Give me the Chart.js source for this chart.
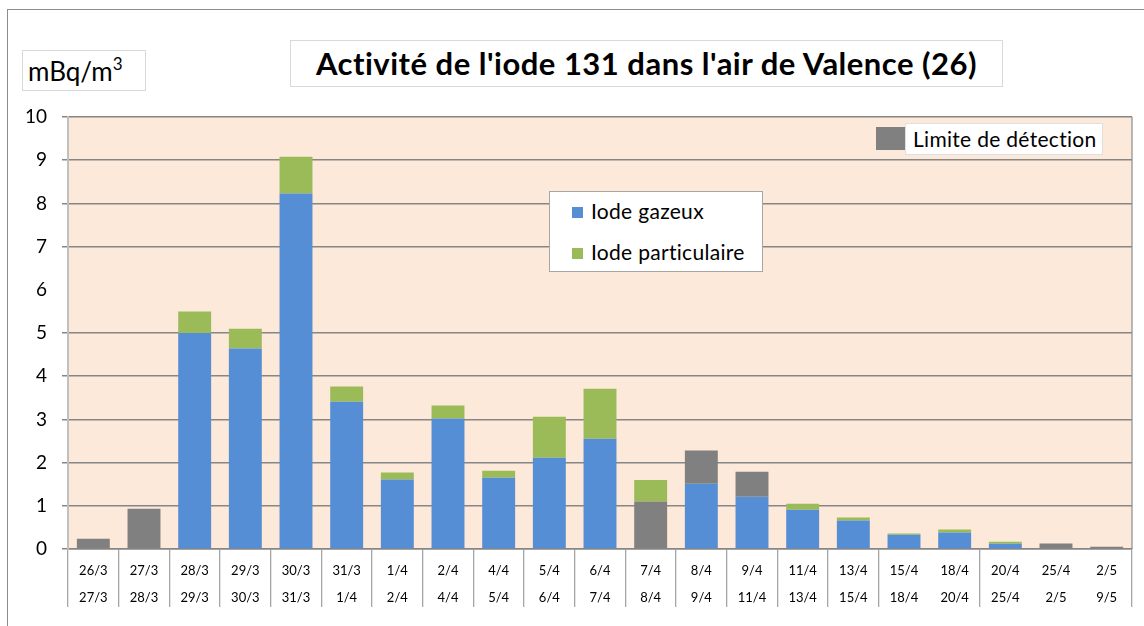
<!DOCTYPE html>
<html lang="fr">
<head>
<meta charset="utf-8">
<title>Activité de l'iode 131 dans l'air de Valence (26)</title>
<script src="https://cdn.jsdelivr.net/npm/chart.js@4.4.1/dist/chart.umd.min.js"></script>
<style>
  html, body { margin: 0; padding: 0; background: #fff; }
  #wrap { position: relative; width: 1144px; height: 626px; overflow: hidden; font-family: Lato, "Open Sans", sans-serif; color: #000; }
  #frame { position: absolute; left: 7px; top: 9px; width: 1140px; height: 700px; border: 1px solid #8c8c8c; box-sizing: border-box; }
  canvas { position: absolute; left: 0; top: 0; }
  .box { position: absolute; background: #fff; box-sizing: border-box; }
  #title { left: 290px; top: 40px; width: 713px; height: 47px; border: 1px solid #d9d9d9; font-weight: bold; font-size: 31px; letter-spacing: 0.5px; text-align: center; line-height: 45px; white-space: nowrap; }
  #unit { left: 22px; top: 50px; width: 124px; height: 41px; border: 1px solid #d9d9d9; font-size: 26px; line-height: 41px; padding-left: 5px; white-space: nowrap; }
  #unit sup { font-size: 17px; vertical-align: 11px; line-height: 0; }
  #leg1 { left: 549px; top: 191px; width: 214px; height: 81px; border: 1px solid #a6a6a6; font-size: 21px; letter-spacing: 0.3px; }
  .item { position: absolute; left: 22px; white-space: nowrap; }
  .sw { display: inline-block; width: 11px; height: 11px; margin-right: 8px; vertical-align: 1px; }
  #leg2sw { position: absolute; left: 876px; top: 127px; width: 29px; height: 23px; background: #808080; }
  #leg2 { left: 905px; top: 123px; width: 198px; height: 32px; border: 1px solid #e0e0e0; font-size: 21px; letter-spacing: 0.3px; line-height: 30px; padding-left: 7px; white-space: nowrap; }
</style>
</head>
<body>
<div id="wrap">
  <div id="frame"></div>
  <canvas id="chart" width="1144" height="626"></canvas>
  <div class="box" id="title">Activité de l'iode 131 dans l'air de Valence (26)</div>
  <div class="box" id="unit">mBq/m<sup>3</sup></div>
  <div class="box" id="leg1">
    <div class="item" style="top:6px"><span class="sw" style="background:#558ed5"></span>Iode gazeux</div>
    <div class="item" style="top:47px"><span class="sw" style="background:#9bbb59"></span>Iode particulaire</div>
  </div>
  <div id="leg2sw"></div>
  <div class="box" id="leg2">Limite de détection</div>
</div>
<script>
// periode de prelevement : debut / fin
const dateDebut = ["26/3","27/3","28/3","29/3","30/3","31/3","1/4","2/4","4/4","5/4","6/4","7/4","8/4","9/4","11/4","13/4","15/4","18/4","20/4","25/4","2/5"];
const dateFin   = ["27/3","28/3","29/3","30/3","31/3","1/4","2/4","4/4","5/4","6/4","7/4","8/4","9/4","11/4","13/4","15/4","18/4","20/4","25/4","2/5","9/5"];

// mBq/m3, valeurs empilees
const limiteBas    = [0.24,0.93,0,0,0,0,0,0,0,0,0,1.10,0,0,0,0,0,0,0,0.13,0.05];
const iodeGazeux   = [0,0,5.00,4.64,8.23,3.41,1.61,3.02,1.65,2.11,2.55,0,1.51,1.21,0.91,0.66,0.33,0.38,0.12,0,0];
const iodePartic   = [0,0,0.50,0.46,0.85,0.35,0.16,0.30,0.16,0.95,1.16,0.50,0,0,0.14,0.07,0.03,0.07,0.05,0,0];
const limiteHaut   = [0,0,0,0,0,0,0,0,0,0,0,0,0.77,0.58,0,0,0,0,0,0,0];

const yTicks = [0,1,2,3,4,5,6,7,8,9,10];
const hiddenSep = [17,19,20];   // separateurs absents sur l'original
const hiddenGrid = [6];

const GRAY = "#808080", BLUE = "#558ed5", GREEN = "#9bbb59";

const plotBg = {
  id: "plotBg",
  beforeDraw(chart){
    const { ctx, chartArea: a } = chart;
    ctx.save();
    ctx.fillStyle = "#fde9d9";
    ctx.fillRect(a.left, a.top, a.right - a.left, a.bottom - a.top);
    ctx.strokeStyle = "#a0a0a0";
    ctx.lineWidth = 1.5;
    ctx.beginPath();
    ctx.moveTo(a.right, a.top);
    ctx.lineTo(a.right, a.bottom);
    ctx.stroke();
    ctx.restore();
  }
};

const labels = dateDebut.map((d, i) => [d, dateFin[i]]);
const ds = (label, data, color) => ({ label, data, backgroundColor: color, borderWidth: 0, barPercentage: 0.65, categoryPercentage: 1 });

new Chart(document.getElementById("chart"), {
  type: "bar",
  data: {
    labels,
    datasets: [
      ds("Limite de détection", limiteBas, GRAY),
      ds("Iode gazeux", iodeGazeux, BLUE),
      ds("Iode particulaire", iodePartic, GREEN),
      ds("Limite de détection (haut)", limiteHaut, GRAY)
    ]
  },
  options: {
    responsive: false,
    animation: false,
    layout: { padding: { left: 0, top: 117, right: 12, bottom: 0 } },
    plugins: { legend: { display: false }, title: { display: false }, tooltip: { enabled: false } },
    scales: {
      x: {
        stacked: true,
        offset: true,
        afterFit(s){ s.height = 77; },
        grid: {
          offset: true,
          drawOnChartArea: false,
          drawTicks: true,
          tickLength: 58,
          lineWidth: 1.3,
          color: c => hiddenSep.includes(c.index) ? "rgba(0,0,0,0)" : "#a6a6a6"
        },
        border: { color: "#868686", width: 1.5 },
        ticks: {
          autoSkip: false,
          maxRotation: 0,
          padding: -49.5,
          color: "#000",
          font: { family: "Lato, 'Open Sans', sans-serif", size: 13, lineHeight: 2.08 }
        }
      },
      y: {
        stacked: true,
        min: 0,
        max: 10,
        afterFit(s){ s.width = 68; },
        afterBuildTicks(s){ s.ticks = yTicks.map(v => ({ value: v })); },
        grid: {
          tickLength: 6,
          lineWidth: 1.5,
          color: c => c.tick && hiddenGrid.includes(c.tick.value) ? "rgba(0,0,0,0)" : "#868686"
        },
        border: { color: "#c0c0c0", width: 2 },
        ticks: {
          padding: 15,
          color: "#000",
          font: { family: "Lato, 'Open Sans', sans-serif", size: 19 }
        }
      }
    }
  },
  plugins: [plotBg]
});
</script>
</body>
</html>
